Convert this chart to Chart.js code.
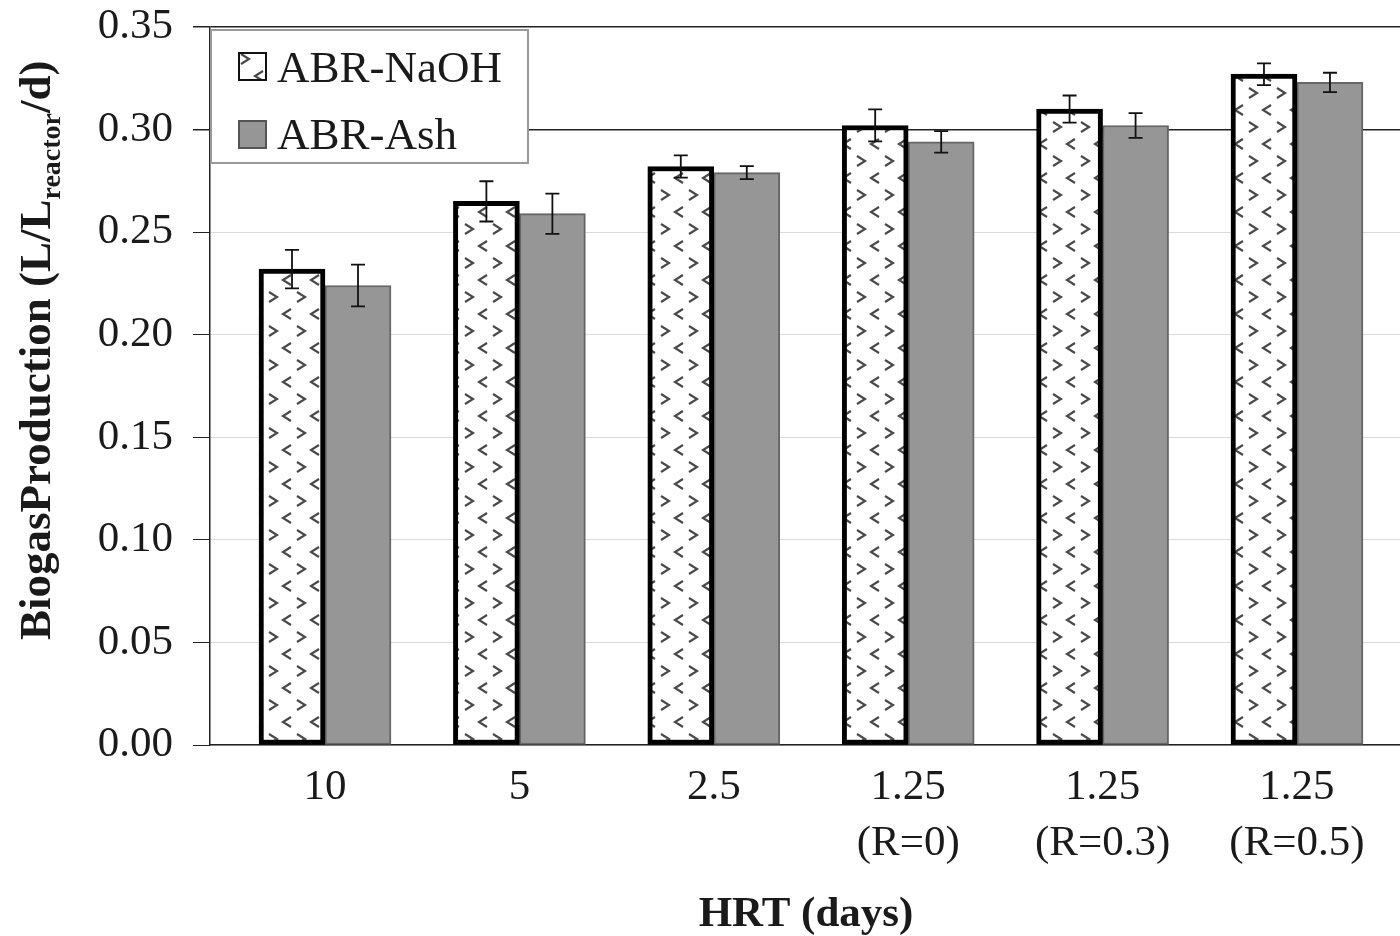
<!DOCTYPE html>
<html>
<head>
<meta charset="utf-8">
<script src="https://cdn.jsdelivr.net/npm/chart.js@4/dist/chart.umd.min.js"></script>
<style>
  html, body { margin: 0; padding: 0; background: #fff; }
  canvas { display: block; }
</style>
</head>
<body>
<canvas id="chart" width="1400" height="936"></canvas>
<script>
// HRT categories (multi-line tick labels)
var hrtLabels = [["10"], ["5"], ["2.5"], ["1.25", "(R=0)"], ["1.25", "(R=0.3)"], ["1.25", "(R=0.5)"]];
var yTicks = [0, 0.05, 0.10, 0.15, 0.20, 0.25, 0.30, 0.35];

// biogas production, L/Lreactor/d
var naohValues = [0.232, 0.265, 0.282, 0.302, 0.310, 0.327];
var naohErrors = [0.0094, 0.0098, 0.0054, 0.0078, 0.0066, 0.0053];
var ashValues = [0.224, 0.259, 0.279, 0.294, 0.302, 0.323];
var ashErrors = [0.0102, 0.0098, 0.0032, 0.0052, 0.0060, 0.0047];

var FONT = '"Liberation Serif", "Times New Roman", serif';
var INK = '#1a1a1a';

// white fill with little < > chevrons, like the NaOH bars
function chevronPattern() {
  var c = document.createElement("canvas");
  c.width = 28; c.height = 34;
  var g = c.getContext("2d");
  g.fillStyle = "#fff";
  g.fillRect(0, 0, 28, 34);
  g.strokeStyle = "#4a4a4a";
  g.lineWidth = 2.2;
  function chev(x, y, dir) {
    g.beginPath();
    g.moveTo(x - 4 * dir, y - 5);
    g.lineTo(x + 4 * dir, y);
    g.lineTo(x - 4 * dir, y + 5);
    g.stroke();
  }
  chev(7, 8, -1);
  chev(21, 25, 1);
  return g.createPattern(c, "repeat");
}

var ctx0 = document.getElementById("chart").getContext("2d");
var pattern = chevronPattern();

function points(vals) {
  return vals.map(function (v, i) { return { x: i, y: v }; });
}

var errorBars = {
  id: "errorBars",
  afterDatasetsDraw: function (chart) {
    var ctx = chart.ctx;
    var yScale = chart.scales.y;
    var errs = [naohErrors, ashErrors];
    ctx.save();
    ctx.strokeStyle = "#111";
    ctx.lineWidth = 1.8;
    chart.data.datasets.forEach(function (ds, di) {
      var meta = chart.getDatasetMeta(di);
      meta.data.forEach(function (bar, i) {
        var v = ds.data[i].y;
        var top = yScale.getPixelForValue(v + errs[di][i]);
        var bot = yScale.getPixelForValue(v - errs[di][i]);
        ctx.beginPath();
        ctx.moveTo(bar.x, top); ctx.lineTo(bar.x, bot);
        ctx.moveTo(bar.x - 7, top); ctx.lineTo(bar.x + 7, top);
        ctx.moveTo(bar.x - 7, bot); ctx.lineTo(bar.x + 7, bot);
        ctx.stroke();
      });
    });
    ctx.restore();
  }
};

var decorations = {
  id: "decorations",
  afterDraw: function (chart) {
    var ctx = chart.ctx;
    ctx.save();
    ctx.fillStyle = INK;

    // y axis title with subscript
    ctx.translate(50, 640);
    ctx.rotate(-Math.PI / 2);
    ctx.textAlign = "left";
    ctx.textBaseline = "alphabetic";
    ctx.font = "bold 45px " + FONT;
    var x = 0;
    var part1 = "BiogasProduction (L/L";
    ctx.fillText(part1, x, 0);
    x += ctx.measureText(part1).width;
    ctx.font = "bold 28px " + FONT;
    ctx.fillText("reactor", x, 10);
    x += ctx.measureText("reactor").width;
    ctx.font = "bold 45px " + FONT;
    ctx.fillText("/d)", x, 0);
    ctx.restore();

    // x axis title
    ctx.save();
    ctx.fillStyle = INK;
    ctx.font = "bold 43px " + FONT;
    ctx.textAlign = "center";
    ctx.textBaseline = "alphabetic";
    ctx.fillText("HRT (days)", 806, 926);
    ctx.restore();

    // legend box
    ctx.save();
    ctx.fillStyle = "#fff";
    ctx.fillRect(210, 29, 319, 135);
    ctx.strokeStyle = "#9a9a9a";
    ctx.lineWidth = 2;
    ctx.strokeRect(211, 30, 317, 133);

    ctx.fillStyle = pattern;
    ctx.fillRect(239, 53, 27, 27);
    ctx.strokeStyle = "#111";
    ctx.lineWidth = 2;
    ctx.strokeRect(239, 53, 27, 27);

    ctx.fillStyle = "#969696";
    ctx.fillRect(239, 121, 27, 27);
    ctx.strokeStyle = "#555";
    ctx.strokeRect(239, 121, 27, 27);

    ctx.fillStyle = INK;
    ctx.font = "45px " + FONT;
    ctx.textAlign = "left";
    ctx.textBaseline = "alphabetic";
    ctx.fillText("ABR-NaOH", 277, 82);
    ctx.fillText("ABR-Ash", 277, 149);
    ctx.restore();
  }
};

var chart = new Chart(ctx0, {
  type: "bar",
  data: {
    datasets: [{
      label: "ABR-NaOH",
      data: points(naohValues),
      backgroundColor: pattern,
      borderColor: "#000",
      borderWidth: 5,
      borderSkipped: false,
      barThickness: 66
    }, {
      label: "ABR-Ash",
      data: points(ashValues),
      backgroundColor: "#969696",
      borderColor: "#666",
      borderWidth: 2,
      borderSkipped: false,
      barThickness: 66
    }]
  },
  options: {
    responsive: false,
    animation: false,
    layout: { padding: { top: 27, right: 0, bottom: 0, left: 0 } },
    plugins: {
      legend: { display: false },
      tooltip: { enabled: false }
    },
    scales: {
      x: {
        type: "linear",
        offset: false,
        min: -0.5916,
        max: 5.53,
        afterBuildTicks: function (s) {
          s.ticks = hrtLabels.map(function (_, i) { return { value: i }; });
        },
        afterFit: function (s) { s.height = 191; s.paddingLeft = 0; s.paddingRight = 0; },
        grid: { display: false, drawTicks: false, offset: false },
        border: { display: true, color: "#222", width: 1.5 },
        ticks: {
          autoSkip: false,
          maxRotation: 0,
          padding: 14,
          color: INK,
          font: { family: FONT, size: 43, lineHeight: 1.32 },
          callback: function (v) { return hrtLabels[v]; }
        }
      },
      y: {
        min: 0,
        max: 0.35,
        afterBuildTicks: function (s) {
          s.ticks = yTicks.map(function (v) { return { value: v }; });
        },
        afterFit: function (s) { s.width = 210; s.paddingTop = 0; s.paddingBottom = 0; },
        border: { color: "#222", width: 1.5 },
        grid: {
          color: function (c) { return c.tick && c.tick.value >= 0.299 ? "#222" : "#dadada"; },
          lineWidth: function (c) { return c.tick && c.tick.value >= 0.299 ? 1.5 : 1; },
          tickColor: "#222",
          tickLength: 17
        },
        ticks: {
          padding: 20,
          color: INK,
          font: { family: FONT, size: 43 },
          callback: function (v) { return v.toFixed(2); }
        }
      }
    }
  },
  plugins: [errorBars, decorations]
});
</script>
</body>
</html>
